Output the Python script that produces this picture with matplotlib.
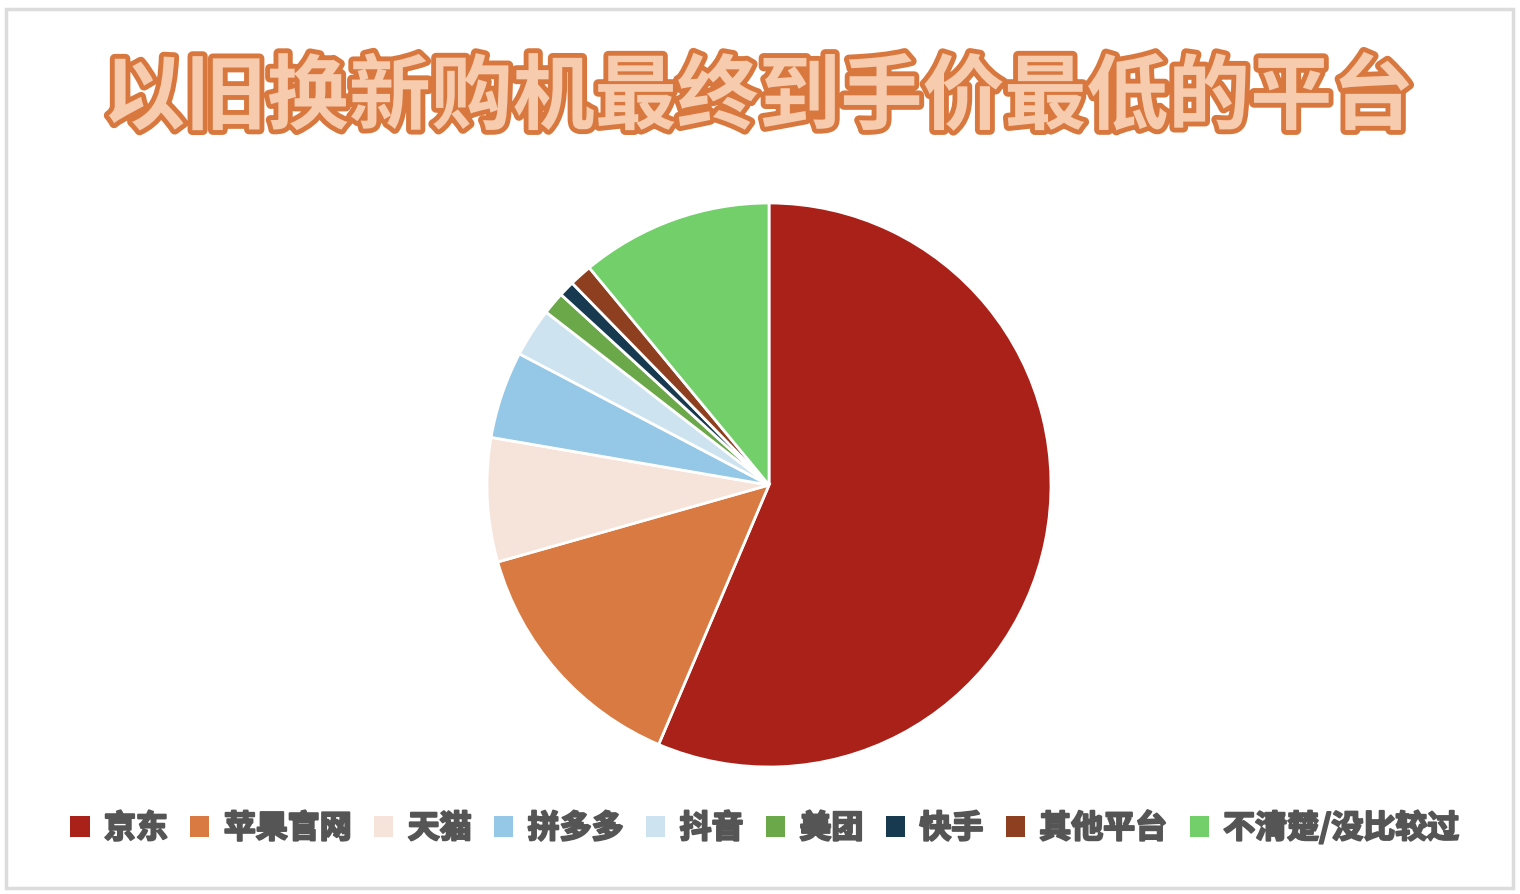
import matplotlib.pyplot as plt
import matplotlib.patheffects as pe
from matplotlib.patches import Patch, Rectangle

plt.rcParams['font.family'] = ['Noto Sans CJK SC', 'DejaVu Sans']

# data (percent)
labels = ['京东', '苹果官网', '天猫', '拼多多', '抖音', '美团', '快手', '其他平台', '不清楚/没比较过']
values = [56.4, 14.2, 7.1, 5.0, 2.8, 1.3, 0.9, 1.3, 11.0]
colors = ['#A92118', '#D97A42', '#F6E4DA', '#94C8E6', '#CDE4F0',
          '#6BA84A', '#183A50', '#8E3F20', '#72CF6A']
title = '以旧换新购机最终到手价最低的平台'

W, H = 1520, 894
fig = plt.figure(figsize=(W / 100, H / 100), dpi=100)
fig.patch.set_facecolor('white')

# light grey frame round the card
fig.add_artist(Rectangle((6 / W, 6 / H), 1 - 13 / W, 1 - 15 / H,
                         transform=fig.transFigure, fill=False,
                         edgecolor='#DCDCDC', linewidth=2.5))

# pie axes: centre (769, 485) px, radius 282 px
cx, cy, r = 769, 485, 282
ax = fig.add_axes([(cx - r) / W, 1 - (cy + r) / H, 2 * r / W, 2 * r / H])
ax.pie(values, colors=colors, startangle=90, counterclock=False, radius=1,
       wedgeprops=dict(edgecolor='white', linewidth=2))
ax.set_xlim(-1, 1)
ax.set_ylim(-1, 1)
ax.axis('off')

fig.text(759 / W, 1 - 99 / H, title, ha='center', va='center',
         fontsize=59, fontweight='black', color='#F6CBAE',
         path_effects=[pe.Stroke(linewidth=7, foreground='#D9783E'),
                       pe.Normal()])

handles = [Patch(facecolor=c, edgecolor='none') for c in colors]
leg = fig.legend(handles, labels, loc='center', ncol=len(labels),
                 bbox_to_anchor=(765 / W, 1 - 828 / H), frameon=False,
                 handlelength=0.6, handleheight=0.6, handletextpad=0.45,
                 columnspacing=0.7, fontsize=23)
for t in leg.get_texts():
    t.set_color('#555555')
    t.set_fontweight('heavy')
    # thicken the strokes a bit, the reference uses a very heavy face
    t.set_path_effects([pe.withStroke(linewidth=1.5, foreground='#555555')])

fig.savefig('out.png', dpi=100, facecolor='white')
